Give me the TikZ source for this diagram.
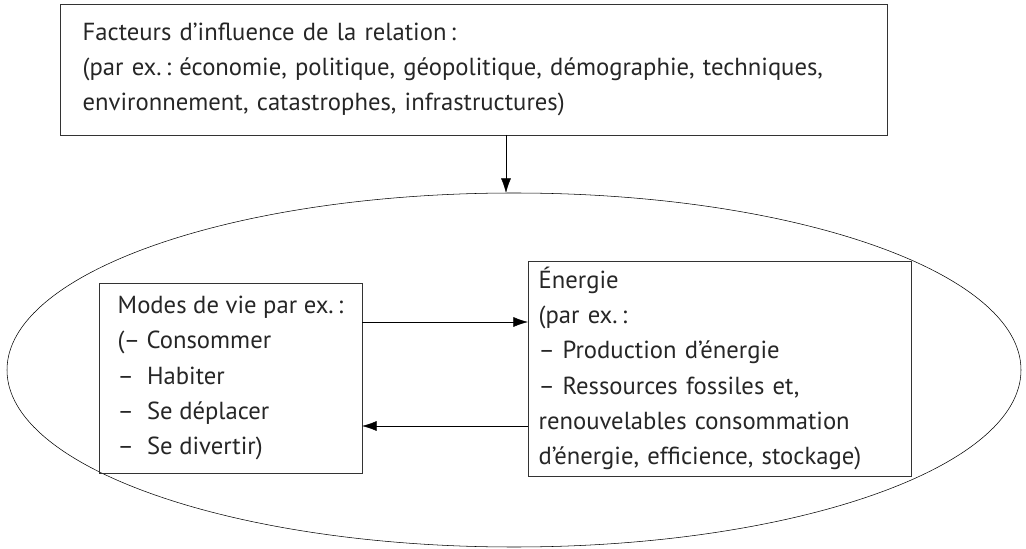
\documentclass[tikz,border=0pt]{standalone}
\usepackage{fontspec}
\setmainfont{PT Sans}
\usetikzlibrary{arrows.meta,shapes.geometric}
\frenchspacing

\begin{document}
\begin{tikzpicture}[x=0.75pt,y=0.75pt,yscale=-1,xscale=1,
  cadre/.style={draw=black!80,rectangle,anchor=north west,align=left,outer sep=0pt,
    text=black!85,font=\fontsize{18.5}{26.5}\selectfont},
  arr/.style={-{Latex[length=11pt,width=7.5pt]}}]
\useasboundingbox (0,0) rectangle (1026,549);

% Outer ellipse
\node[draw,ellipse,minimum width=760.5pt,minimum height=265.5pt,inner sep=0pt,outer sep=0pt] (cycle) at (514,370) {};

% Influence factors
\node[cadre,text width=586.25pt,inner xsep=17pt,minimum height=98.25pt] (facteurs) at (60,4)
  {Facteurs d’influence de la relation\,:\\
   (par ex.\,: économie, politique, géopolitique, démographie, techniques,\\
   environnement, catastrophes, infrastructures)};

% Lifestyles
\node[cadre,minimum width=197.25pt,inner xsep=7pt,minimum height=142.5pt] (modes) at (99,283)
  {Modes de vie par ex.\,:\\
   (– Consommer\\
   \makebox[22pt][l]{–}Habiter\\
   \makebox[22pt][l]{–}Se déplacer\\
   \makebox[22pt][l]{–}Se divertir)};

% Energy
\node[cadre,text width=271.25pt,inner xsep=8pt,minimum height=161.25pt] (energie) at (528,261)
  {Énergie\\
   (par ex.\,:\\
   \makebox[18pt][l]{–}Production d’énergie\\
   \makebox[18pt][l]{–}Ressources fossiles et,\\
   renouvelables consommation\\
   d’énergie, efficience, stockage)};

\coordinate (drop) at (506,193);
\coordinate (haut) at (0,322);
\coordinate (bas) at (0,426);

\draw[arr] (facteurs.south -| drop) -- (drop);
\draw[arr] (modes.east |- haut) -- (energie.west |- haut);
\draw[arr] (energie.west |- bas) -- (modes.east |- bas);
\end{tikzpicture}
\end{document}
